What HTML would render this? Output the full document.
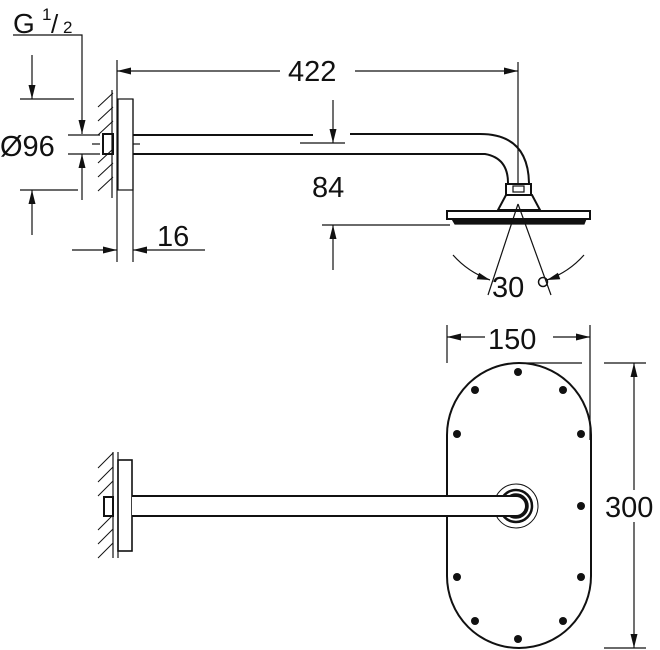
<!DOCTYPE html>
<html><head><meta charset="utf-8"><style>
html,body{margin:0;padding:0;background:#fff;width:660px;height:650px;overflow:hidden}
svg{display:block}
text{font-family:"Liberation Sans",sans-serif;fill:#111}
</style></head><body>
<svg width="660" height="650" viewBox="0 0 660 650" xmlns="http://www.w3.org/2000/svg">
<g stroke="#111" fill="none" stroke-width="1.2">
<!-- ===== TOP VIEW ===== -->
<text x="13" y="33" font-size="28" stroke="none">G</text>
<text x="42" y="20" font-size="17" stroke="none">1</text>
<text x="51" y="33" font-size="26" stroke="none">/</text>
<text x="63" y="33" font-size="17" stroke="none">2</text>
<polyline points="13,35 82,35 82,134"/>
<line x1="82" y1="200" x2="82" y2="154"/>
<line x1="20" y1="99" x2="74" y2="99"/>
<line x1="20" y1="190" x2="78" y2="190"/>
<line x1="32" y1="55" x2="32" y2="99"/>
<line x1="32" y1="235" x2="32" y2="190"/>
<text x="0" y="156" font-size="29" stroke="none">Ø96</text>
<line x1="68" y1="135" x2="100" y2="135"/>
<line x1="68" y1="154" x2="100" y2="154"/>
<line x1="92" y1="144" x2="100" y2="144"/>
<line x1="112" y1="90" x2="112" y2="198"/>
<line x1="117" y1="60" x2="117" y2="262"/>
<g stroke-width="1">
<line x1="98" y1="107" x2="113" y2="93"/><line x1="98" y1="121" x2="113" y2="107"/>
<line x1="98" y1="135" x2="113" y2="121"/><line x1="98" y1="163" x2="113" y2="149"/>
<line x1="98" y1="177" x2="113" y2="163"/><line x1="98" y1="191" x2="113" y2="177"/>
</g>
<rect x="103" y="134" width="10" height="20" stroke-width="2"/>
<rect x="118" y="99" width="15" height="91"/>
<line x1="133" y1="99" x2="133" y2="262"/>
<line x1="72" y1="250" x2="117" y2="250"/>
<line x1="205" y1="250" x2="133" y2="250"/>
<text x="157" y="246" font-size="29" stroke="none">16</text>
<line x1="280" y1="71" x2="117" y2="71"/>
<line x1="355" y1="71" x2="518" y2="71"/>
<text x="288" y="81" font-size="29" stroke="none">422</text>
<line x1="518" y1="62" x2="518" y2="183"/>
<g stroke-width="2">
<path d="M133,135 H313 M350,134 H480 Q528,134 529,183"/>
<path d="M133,154 H485 Q508,158 508,183"/>
</g>
<line x1="133" y1="144" x2="140" y2="144"/>
<line x1="300" y1="143" x2="345" y2="143"/>
<line x1="333" y1="100" x2="333" y2="143"/>
<line x1="333" y1="270" x2="333" y2="225"/>
<line x1="322" y1="225" x2="450" y2="225"/>
<text x="312" y="197" font-size="29" stroke="none">84</text>
<rect x="506" y="184" width="25" height="11" stroke-width="2"/>
<rect x="513" y="186" width="11" height="6"/>
<path d="M506,195 L498,210 H540 L532,195 Z" stroke-width="2"/>
<rect x="447" y="211" width="143" height="8" stroke-width="2"/>
<path d="M452,219 H586 L584,224 H455 Z" fill="#111"/>
<line x1="518" y1="204" x2="488" y2="295"/>
<line x1="518" y1="204" x2="551" y2="295"/>
<path d="M453,255 Q468,272 490,280"/>
<path d="M584,255 Q569,272 547,280"/>
<text x="492" y="297" font-size="29" stroke="none">30</text>
<circle cx="543" cy="282" r="4.5" stroke-width="1.5"/>
<!-- ===== BOTTOM VIEW ===== -->
<line x1="113" y1="452" x2="113" y2="558"/>
<line x1="118" y1="452" x2="118" y2="558"/>
<g stroke-width="1">
<line x1="98" y1="468" x2="113" y2="453"/><line x1="98" y1="482" x2="113" y2="467"/>
<line x1="98" y1="496" x2="113" y2="481"/><line x1="98" y1="530" x2="113" y2="515"/>
<line x1="98" y1="544" x2="113" y2="529"/><line x1="98" y1="558" x2="113" y2="543"/>
</g>
<rect x="104" y="497" width="9" height="19" stroke-width="2"/>
<rect x="118" y="460" width="14" height="91" stroke-width="1.6"/>
<rect x="447" y="363" width="144" height="285" rx="72" ry="72" stroke-width="2"/>
<g fill="#111" stroke="none">
<circle cx="518" cy="372" r="4"/><circle cx="475" cy="390" r="4"/><circle cx="563" cy="390" r="4"/>
<circle cx="457" cy="434" r="4"/><circle cx="581" cy="434" r="4"/><circle cx="581" cy="506" r="4"/>
<circle cx="457" cy="577" r="4"/><circle cx="581" cy="577" r="4"/>
<circle cx="475" cy="621" r="4"/><circle cx="563" cy="621" r="4"/><circle cx="518" cy="639" r="4"/>
</g>
<circle cx="516" cy="506" r="22" stroke-width="1"/>
<circle cx="516" cy="506" r="16" stroke-width="2.5"/>
<circle cx="516" cy="506" r="11" stroke-width="3.5"/>
<path d="M132,496 H516 A10,10 0 0 1 516,516 H132" fill="#fff" stroke-width="2"/>
<line x1="447" y1="325" x2="447" y2="363"/>
<line x1="590" y1="325" x2="590" y2="440"/>
<line x1="485" y1="337" x2="447" y2="337"/>
<line x1="553" y1="337" x2="590" y2="337"/>
<text x="488" y="349" font-size="29" stroke="none">150</text>
<line x1="518" y1="363" x2="582" y2="363"/>
<line x1="604" y1="363" x2="646" y2="363"/>
<line x1="604" y1="648" x2="646" y2="648"/>
<line x1="634" y1="490" x2="634" y2="363"/>
<line x1="634" y1="522" x2="634" y2="648"/>
<text x="605" y="517" font-size="29" stroke="none">300</text>
</g>
<!-- arrowheads -->
<g fill="#111" stroke="none">
<polygon points="78.5,120 85.5,120 82,134"/>
<polygon points="78.5,168 85.5,168 82,154"/>
<polygon points="28.5,85 35.5,85 32,99"/>
<polygon points="28.5,204 35.5,204 32,190"/>
<polygon points="103,246.5 103,253.5 117,250"/>
<polygon points="147,246.5 147,253.5 133,250"/>
<polygon points="131,67.5 131,74.5 117,71"/>
<polygon points="504,67.5 504,74.5 518,71"/>
<polygon points="329.5,129 336.5,129 333,143"/>
<polygon points="329.5,239 336.5,239 333,225"/>
<polygon points="490,280 476.7,279.3 479.1,272.7"/>
<polygon points="547,280 560.3,279.3 557.9,272.7"/>
<polygon points="461,333.5 461,340.5 447,337"/>
<polygon points="576,333.5 576,340.5 590,337"/>
<polygon points="630.5,377 637.5,377 634,363"/>
<polygon points="630.5,634 637.5,634 634,648"/>
</g>
</svg>
</body></html>
